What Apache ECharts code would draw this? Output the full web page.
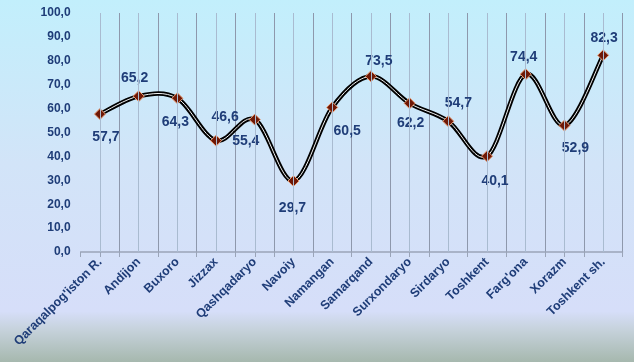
<!DOCTYPE html>
<html>
<head>
<meta charset="utf-8">
<script src="https://cdn.jsdelivr.net/npm/echarts@6/dist/echarts.min.js"></script>
<style>html,body{margin:0;padding:0;}#c{width:634px;height:362px;}</style>
</head>
<body>
<div id="c"></div>
<script>
const categories = ["Qaraqalpog'iston R.", "Andijon", "Buxoro", "Jizzax", "Qashqadaryo", "Navoiy", "Namangan", "Samarqand", "Surxondaryo", "Sirdaryo", "Toshkent", "Farg'ona", "Xorazm", "Toshkent sh."];
const values = [57.7, 65.2, 64.3, 46.6, 55.4, 29.7, 60.5, 73.5, 62.2, 54.7, 40.1, 74.4, 52.9, 82.3];
const yMin = 0, yMax = 100, yStep = 10;

// label placement (styling only)
const labelOffsets = [[6,23],[-4,-18],[-2,24],[9,-23],[-9,22],[-1,27],[15,24],[8,-15],[1,20],[10,-18],[8,25],[-2,-17],[11,23],[1,-17]];

const fmt = v => Number(v).toFixed(1).replace('.', ',');
const textColor = '#1f3d78';
const FONT = 'Liberation Sans, Arial';

// smooth curve (Catmull-Rom style) through points computed with the chart's own axes
function curvePath(api) {
  const pts = values.map((v, i) => api.coord([i, v]));
  let d = 'M' + pts[0][0] + ' ' + pts[0][1];
  const t = 1 / 6;
  for (let i = 0; i < pts.length - 1; i++) {
    const p0 = pts[i - 1] || pts[i];
    const p1 = pts[i];
    const p2 = pts[i + 1];
    const p3 = pts[i + 2] || pts[i + 1];
    const c1x = p1[0] + (p2[0] - p0[0]) * t, c1y = p1[1] + (p2[1] - p0[1]) * t;
    const c2x = p2[0] - (p3[0] - p1[0]) * t, c2y = p2[1] - (p3[1] - p1[1]) * t;
    d += ' C' + c1x + ' ' + c1y + ' ' + c2x + ' ' + c2y + ' ' + p2[0] + ' ' + p2[1];
  }
  return d;
}

const chart = echarts.init(document.getElementById('c'), null, {renderer: 'canvas'});
chart.setOption({
  animation: false,
  backgroundColor: {
    type: 'linear', x: 0, y: 0, x2: 0, y2: 1,
    colorStops: [
      {offset: 0, color: '#c2effc'},
      {offset: 0.45, color: '#d2e4f8'},
      {offset: 0.86, color: '#d6def9'},
      {offset: 0.91, color: '#c6d2dc'},
      {offset: 1, color: '#a6b8ae'}
    ]
  },
  grid: {left: 80.6, right: 11.5, top: 13, bottom: 110, containLabel: false},
  xAxis: [{
    type: 'category', data: categories, boundaryGap: true,
    axisLine: {show: true, lineStyle: {color: '#9aa4b8', width: 1.5}},
    axisTick: {show: true, length: 5, lineStyle: {color: '#9aa4b8'}},
    splitLine: {show: true, showMinLine: false, lineStyle: {color: '#8e98ac', width: 1}},
    axisLabel: {rotate: 45, interval: 0, margin: 8, color: textColor, fontFamily: FONT, fontWeight: 'bold', fontSize: 12.5}
  }, {
    type: 'category', data: categories, boundaryGap: true, position: 'bottom',
    axisLine: {show: false},
    axisTick: {show: true, alignWithLabel: true, length: 5, lineStyle: {color: '#9aa4b8'}},
    axisLabel: {show: false}, splitLine: {show: false}
  }],
  yAxis: {
    type: 'value', min: yMin, max: yMax, interval: yStep,
    axisLine: {show: false}, axisTick: {show: false}, splitLine: {show: false},
    axisLabel: {formatter: fmt, margin: 10, color: textColor, fontFamily: FONT, fontWeight: 'bold', fontSize: 12}
  },
  series: [{
    type: 'line', data: values, z: 1, silent: true,
    lineStyle: {opacity: 0}, showSymbol: false, symbol: 'none',
    markLine: {
      silent: true, symbol: 'none', label: {show: false},
      lineStyle: {color: '#a9bbd0', width: 1, type: 'solid'},
      data: categories.map(c => ({xAxis: c}))
    }
  }, {
    type: 'custom', z: 3, silent: true,
    data: [[0, values[0]]],
    renderItem: function (params, api) {
      const d = curvePath(api);
      return {
        type: 'group',
        children: [
          {type: 'path', shape: {pathData: d}, style: {fill: 'none', stroke: '#000000', lineWidth: 4.5, lineJoin: 'round'}},
          {type: 'path', shape: {pathData: d}, style: {fill: 'none', stroke: '#f4f4f4', lineWidth: 1, lineJoin: 'round'}}
        ]
      };
    }
  }, {
    type: 'line', z: 4,
    data: values.map((v, i) => ({value: v, label: {offset: labelOffsets[i]}})),
    lineStyle: {opacity: 0},
    symbol: 'diamond', symbolSize: 11, showSymbol: true,
    itemStyle: {color: '#6e1806', borderColor: '#e89a70', borderWidth: 1},
    label: {show: true, position: 'inside', formatter: p => fmt(p.value), color: textColor, fontFamily: FONT, fontWeight: 'bold', fontSize: 14}
  }]
});
</script>
</body>
</html>
